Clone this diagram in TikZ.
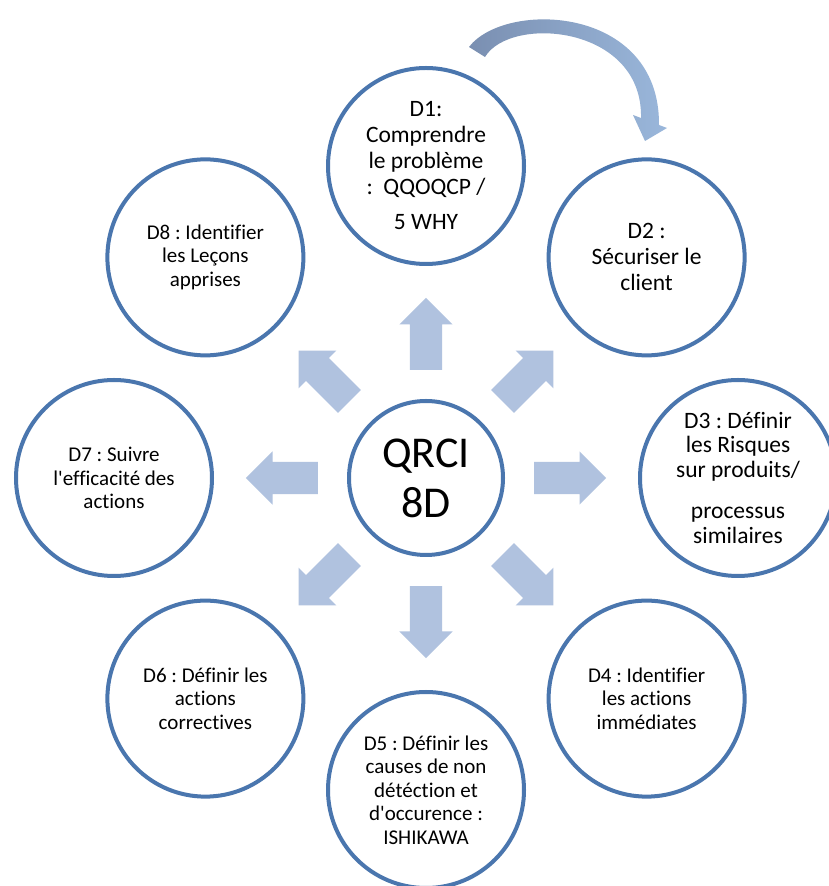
\documentclass[tikz,border=0pt]{standalone}
\usepackage{fontspec}
\setmainfont{Carlito}[Ligatures=CommonOff]
\usetikzlibrary{shapes.arrows,calc}
\definecolor{ringblue}{HTML}{4A76AE}
\definecolor{arrowblue}{HTML}{B0C2DF}
\definecolor{curveL}{HTML}{7A8FB1}
\definecolor{curveR}{HTML}{9AB7DB}
\frenchspacing
\begin{document}
\begin{tikzpicture}[x=1pt,y=1pt,
  ring/.style={circle, draw=ringblue, line width=4pt, fill=white, minimum size=196pt, inner sep=0pt},
  hub/.style={circle, draw=ringblue, line width=4pt, fill=white, minimum size=154pt, inner sep=0pt},
  bigtxt/.style={align=center, font=\fontsize{23.5}{26}\selectfont, inner sep=0pt},
  smalltxt/.style={align=center, font=\fontsize{21}{23.5}\selectfont, inner sep=0pt},
  blockarrow/.style={single arrow, fill=arrowblue, draw=none, minimum height=72pt,
    inner xsep=0pt, inner ysep=16pt, single arrow head extend=10.5pt, anchor=tail}]
\useasboundingbox (0,0) rectangle (828,886);
\fill[white] (0,0) rectangle (828,886);
\coordinate (c) at (426,408);
% radial block arrows
\foreach \a/\n in {90/1,45/2,0/3,-45/4,-90/5,-135/6,180/7,135/8}
  \node[blockarrow, rotate=\a] (a\n) at ($(c)+(\a:108)$) {};
% circles
\node[hub] (hub) at (c) {};
\node[ring] (d1) at ($(c)+(90:312)$) {};
\node[ring] (d2) at ($(c)+(45:312)$) {};
\node[ring] (d3) at ($(c)+(0:312)$) {};
\node[ring] (d4) at ($(c)+(-45:312)$) {};
\node[ring] (d5) at ($(c)+(-90:312)$) {};
\node[ring] (d6) at ($(c)+(-135:312)$) {};
\node[ring] (d7) at ($(c)+(180:312)$) {};
\node[ring] (d8) at ($(c)+(135:312)$) {};
% texts
\node[align=center, font=\fontsize{44}{50}\selectfont, inner sep=0pt] (hubt) at (hub) {QRCI\\8D};
\node[bigtxt] (t1) at (d1) {D1:\\Comprendre\\le problème\\:\ \ QQOQCP /\\[9pt]5 WHY};
\node[bigtxt] (t2) at (d2) {D2 :\\Sécuriser le\\client};
\node[bigtxt, font=\fontsize{23.5}{24.5}\selectfont] (t3) at (d3) {D3 : Définir\\les Risques\\sur produits/\\[17pt]processus\\similaires};
\node[smalltxt] (t4) at (d4) {D4 : Identifier\\les actions\\immédiates};
\node[smalltxt] (t5) at (d5) {D5 : Définir les\\causes de non\\détéction et\\d\textquotesingle occurence :\\ISHIKAWA};
\node[smalltxt] (t6) at (d6) {D6 : Définir les\\actions\\correctives};
\node[smalltxt] (t7) at (d7) {D7 : Suivre\\l\textquotesingle efficacité des\\actions};
\node[smalltxt] (t8) at (d8) {D8 : Identifier\\les Leçons\\apprises};
% curved arrow at top
\shade[left color=curveL, right color=curveR]
  (469,839) .. controls (505,886) and (660,881) .. (659,761)
  -- (667,758) -- (645,745) -- (633,771) -- (641,768)
  .. controls (643,861) and (510,871) .. (485,829) -- cycle;
\end{tikzpicture}
\end{document}
